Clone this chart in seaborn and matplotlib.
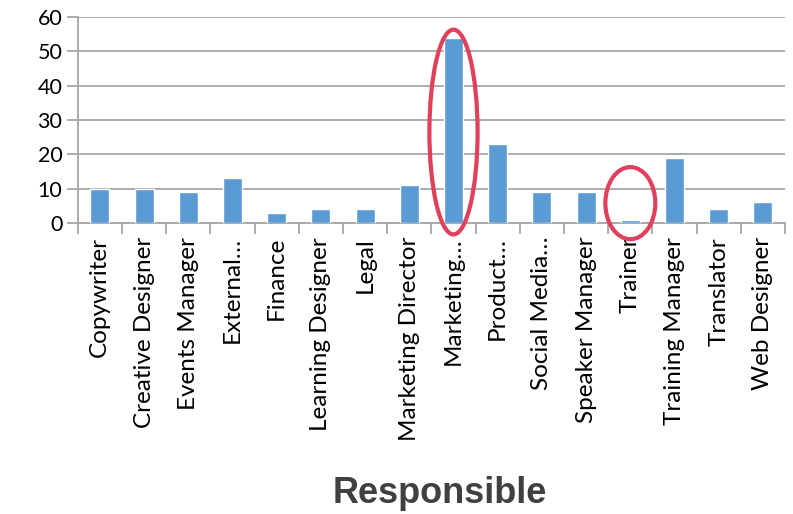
import matplotlib
matplotlib.use("Agg")
import matplotlib.pyplot as plt
import seaborn as sns
import pandas as pd
from matplotlib.patches import Ellipse
from matplotlib.ticker import FixedLocator

categories = ["Copywriter", "Creative Designer", "Events Manager", "External…",
              "Finance", "Learning Designer", "Legal", "Marketing Director",
              "Marketing…", "Product…", "Social Media…", "Speaker Manager",
              "Trainer", "Training Manager", "Translator", "Web Designer"]
values = [10, 10, 9, 13, 3, 4, 4, 11, 54, 23, 9, 9, 1, 19, 4, 6]
yticks = [0, 10, 20, 30, 40, 50, 60]
highlighted = ["Marketing…", "Trainer"]

sns.set_theme(style="white")
plt.rcParams["font.family"] = ["Lato", "DejaVu Sans"]

df = pd.DataFrame({"Responsible": categories, "Count": values})

fig = plt.figure(figsize=(7.93, 5.14), dpi=100)
ax = fig.add_axes([0.098, 0.566, 0.892, 0.401])
sns.barplot(data=df, x="Responsible", y="Count", color="#5B9BD5",
            saturation=1, width=0.43, ax=ax, zorder=3)

ax.set_ylim(0, 60)
ax.set_xlim(-0.5, len(categories) - 0.5)
ax.set_yticks(yticks)
ax.yaxis.grid(True, color="#A6A6A6", linewidth=1.3, zorder=0)
ax.set_axisbelow(True)
for s in ["top", "right"]:
    ax.spines[s].set_visible(False)
ax.spines["left"].set_color("#A6A6A6")
ax.spines["left"].set_linewidth(1.3)
ax.spines["bottom"].set_color("#A6A6A6")
ax.spines["bottom"].set_linewidth(1.3)

ax.tick_params(axis="y", which="major", length=8, width=1.3, color="#A6A6A6",
               labelsize=15.5, labelcolor="black", pad=3, left=True)
ax.set_xticks(range(len(categories)))
ax.set_xticklabels(categories, rotation=90, fontsize=17.5, color="black")
ax.tick_params(axis="x", which="major", length=0, pad=10)
ax.xaxis.set_minor_locator(FixedLocator([i - 0.5 for i in range(len(categories) + 1)]))
ax.tick_params(axis="x", which="minor", length=8, width=1.3, color="#A6A6A6", bottom=True)
ax.set_xlabel("")
ax.set_ylabel("")

# highlight ellipses
for name, w, h, cy in [("Marketing…", 1.09, 59.6, 26.5), ("Trainer", 1.13, 21.0, 5.8)]:
    i = categories.index(name)
    e = Ellipse((i, cy), w, h, fill=False, edgecolor="#E0405A", linewidth=3,
                clip_on=False, zorder=5)
    ax.add_patch(e)

fig.text(0.555, 0.04, "Responsible", ha="center", va="center", fontsize=26,
         fontweight="bold", color="#404040", family=["Liberation Sans", "DejaVu Sans"])

fig.savefig("out.png", dpi=100)
